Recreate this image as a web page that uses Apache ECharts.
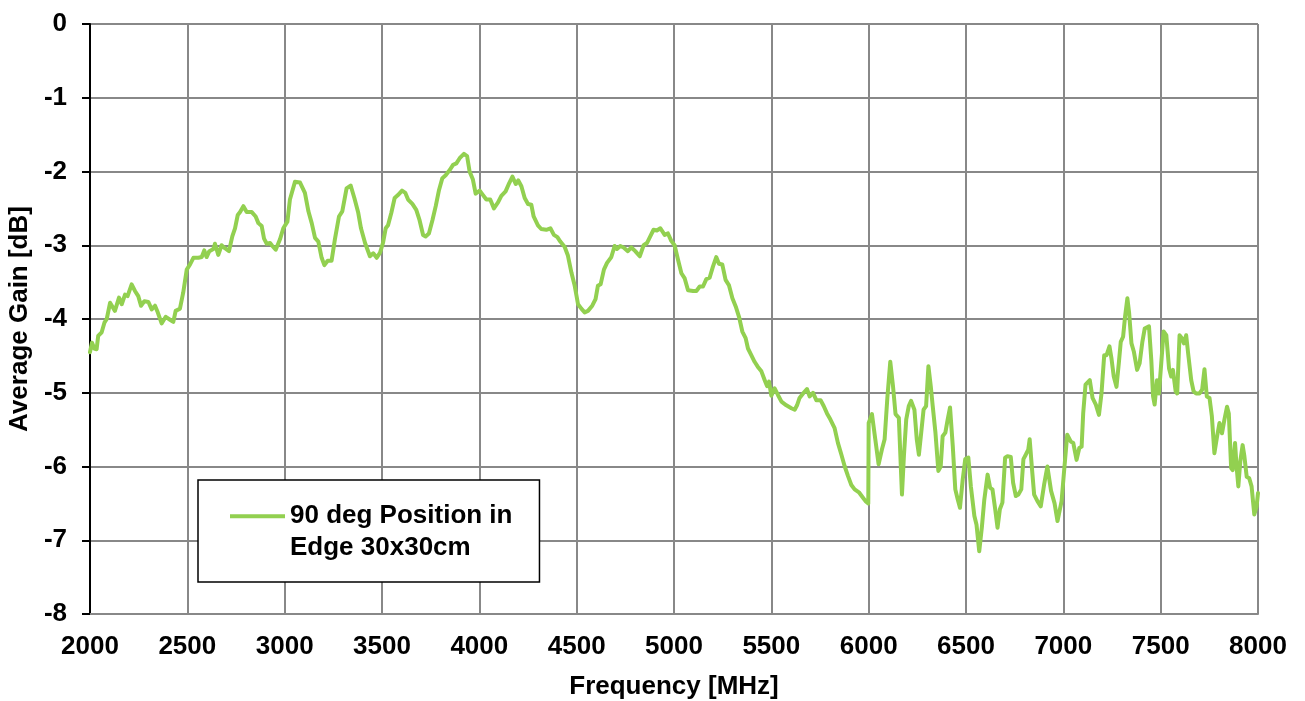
<!DOCTYPE html>
<html>
<head>
<meta charset="utf-8">
<script src="https://cdn.jsdelivr.net/npm/echarts@6/dist/echarts.min.js"></script>
<style>
html,body{margin:0;padding:0;background:#fff;}
#chart{width:1305px;height:701px;}
</style>
</head>
<body>
<div id="chart"></div>
<script>
const seriesName = '90 deg Position in\nEdge 30x30cm';
const xTicks = [2000, 2500, 3000, 3500, 4000, 4500, 5000, 5500, 6000, 6500, 7000, 7500, 8000];
const yTicks = [0, -1, -2, -3, -4, -5, -6, -7, -8];

const freqMHz = [
2000,2010,2022,2034,2042,2060,2074,2086,2103,2128,2149,2163,2180,2193,2214,2231,2248,2262,2279,2300,2317,2334,2348,2368,2389,2411,2428,2440,2462,2479,2497,
2514,2531,2557,2574,2587,2599,2613,2634,2642,2659,2676,2693,2714,2731,2745,2759,2771,2788,2805,2831,2851,2865,2882,2894,2908,2925,2937,2954,2976,2993,
3014,3027,3053,3079,3104,3122,3139,3156,3173,3190,3204,3221,3241,3258,3279,3296,3318,3339,3358,3378,3392,3413,3438,3455,3473,3490,
3505,3519,3531,3548,3565,3582,3603,3620,3634,3656,3676,3693,3711,3724,3741,3759,3776,3793,3810,3827,3848,3865,3882,3899,3921,3937,3950,3967,3981,
4002,4019,4036,4056,4075,4096,4113,4135,4153,4170,4187,4200,4216,4233,4250,4267,4279,4289,4301,4318,4344,4365,4383,4401,4416,4438,4455,4473,4490,
4507,4524,4541,4558,4580,4597,4609,4623,4640,4656,4678,4695,4707,4724,4741,4763,4781,4801,4824,4844,4861,4878,4895,4912,4930,
4952,4969,4986,5003,5021,5038,5055,5072,5098,5115,5132,5149,5166,5183,5200,5217,5231,5248,5265,5282,5300,5317,5334,5351,5368,5380,5397,5414,5431,5449,5466,5478,5488,
5500,5517,5534,5552,5577,5603,5620,5632,5645,5666,5683,5697,5714,5731,5753,5769,5786,5803,5825,5842,5860,5877,5894,5911,5928,5950,5967,5984,5998,
6000,6017,6034,6051,6068,6082,6096,6111,6125,6138,6155,6171,6181,6193,6206,6218,6235,6247,6258,6270,6282,6295,6307,6319,6329,6343,6358,6370,6380,6394,6406,6418,6432,6445,6457,6469,6483,6496,
6512,6525,6543,6554,6568,6582,6594,6611,6624,6636,6650,6662,6674,6687,6701,6713,6730,6742,6756,6769,6784,6795,6807,6820,6827,6838,6850,6867,
6884,6901,6918,6937,6955,6970,6991,7003,7020,7038,7051,7068,7082,7094,7102,7114,7136,7150,7167,7183,7196,7210,7222,7237,7247,7259,7273,7285,7295,7307,7317,7329,7338,7350,7362,7379,7392,7406,7418,7440,7452,7461,7469,7481,7491,
7503,7515,7529,7543,7554,7563,7577,7585,7597,7609,7619,7631,7643,7657,7669,7682,7699,7713,7725,7737,7751,7763,7776,7790,7802,7815,7827,7841,7850,7862,7870,7882,7890,7899,7909,7921,7930,7942,7955,7967,7981,7993,8000
];

const gainDb = [
-4.45,-4.32,-4.40,-4.41,-4.23,-4.18,-4.05,-4.00,-3.78,-3.89,-3.71,-3.80,-3.67,-3.69,-3.53,-3.62,-3.69,-3.82,-3.76,-3.77,-3.87,-3.82,-3.91,-4.06,-3.97,-4.01,-4.04,-3.89,-3.86,-3.64,-3.33,
-3.26,-3.17,-3.17,-3.16,-3.07,-3.16,-3.08,-3.05,-2.98,-3.13,-3.00,-3.04,-3.08,-2.88,-2.77,-2.59,-2.55,-2.47,-2.55,-2.55,-2.61,-2.70,-2.74,-2.91,-2.98,-2.97,-3.01,-3.06,-2.92,-2.77,
-2.68,-2.38,-2.14,-2.15,-2.29,-2.54,-2.70,-2.90,-2.95,-3.17,-3.27,-3.21,-3.21,-2.92,-2.61,-2.54,-2.23,-2.19,-2.36,-2.56,-2.77,-2.97,-3.15,-3.11,-3.17,-3.10,
-2.97,-2.77,-2.73,-2.56,-2.36,-2.32,-2.26,-2.29,-2.38,-2.44,-2.52,-2.66,-2.86,-2.88,-2.84,-2.66,-2.47,-2.25,-2.09,-2.05,-1.98,-1.91,-1.89,-1.82,-1.76,-1.79,-2.00,-2.11,-2.30,
-2.26,-2.32,-2.38,-2.38,-2.50,-2.42,-2.33,-2.27,-2.16,-2.07,-2.17,-2.12,-2.20,-2.36,-2.44,-2.45,-2.61,-2.60,-2.73,-2.78,-2.79,-2.77,-2.86,-2.89,-2.95,-3.02,-3.14,-3.37,-3.55,
-3.80,-3.86,-3.91,-3.89,-3.82,-3.73,-3.55,-3.53,-3.33,-3.24,-3.16,-3.01,-3.05,-3.01,-3.03,-3.08,-3.03,-3.08,-3.15,-3.00,-2.97,-2.88,-2.79,-2.80,-2.77,
-2.86,-2.84,-2.94,-3.00,-3.20,-3.38,-3.45,-3.61,-3.62,-3.62,-3.56,-3.56,-3.46,-3.44,-3.29,-3.16,-3.25,-3.26,-3.47,-3.54,-3.72,-3.83,-3.97,-4.17,-4.26,-4.40,-4.49,-4.58,-4.65,-4.71,-4.83,-4.91,-4.85,
-5.04,-4.94,-5.03,-5.12,-5.17,-5.21,-5.23,-5.17,-5.07,-5.00,-4.95,-5.05,-5.00,-5.10,-5.10,-5.18,-5.28,-5.36,-5.48,-5.68,-5.84,-6.00,-6.13,-6.25,-6.31,-6.35,-6.41,-6.47,-6.50,
-5.41,-5.29,-5.63,-5.97,-5.77,-5.63,-5.07,-4.58,-4.91,-5.29,-5.34,-6.38,-5.86,-5.36,-5.18,-5.11,-5.23,-5.63,-5.84,-5.54,-5.23,-5.18,-4.64,-4.91,-5.18,-5.54,-6.06,-6.00,-5.59,-5.54,-5.36,-5.20,-5.72,-6.31,-6.44,-6.56,-6.18,-5.90,
-5.88,-6.27,-6.67,-6.79,-7.15,-6.81,-6.45,-6.11,-6.29,-6.31,-6.58,-6.83,-6.58,-6.49,-5.88,-5.86,-5.87,-6.22,-6.40,-6.38,-6.31,-5.90,-5.84,-5.77,-5.63,-6.00,-6.38,-6.47,
-6.54,-6.25,-6.00,-6.33,-6.50,-6.74,-6.47,-6.09,-5.57,-5.66,-5.68,-5.91,-5.75,-5.73,-5.28,-4.89,-4.83,-5.07,-5.16,-5.30,-5.01,-4.49,-4.49,-4.37,-4.53,-4.78,-4.92,-4.60,-4.31,-4.24,-3.97,-3.72,-3.92,-4.33,-4.44,-4.69,-4.60,-4.31,-4.13,-4.10,-4.56,-5.05,-5.16,-4.83,-5.01,
-4.60,-4.17,-4.22,-4.67,-4.78,-4.69,-4.98,-5.01,-4.22,-4.26,-4.33,-4.22,-4.51,-4.83,-4.98,-5.01,-5.01,-4.96,-4.68,-5.05,-5.07,-5.32,-5.82,-5.59,-5.41,-5.55,-5.37,-5.19,-5.28,-6.02,-6.05,-5.68,-6.00,-6.27,-5.93,-5.71,-5.86,-6.14,-6.16,-6.27,-6.65,-6.54,-6.36
];

const points = freqMHz.map((f, i) => [f, gainDb[i]]);
const FONT = "'Liberation Sans', Arial, sans-serif";
const GRID = '#888888';

const chart = echarts.init(document.getElementById('chart'), null, {renderer: 'canvas'});
chart.setOption({
  backgroundColor: '#ffffff',
  animation: false,
  grid: {left: 90, top: 24, width: 1168, height: 590, containLabel: false, outerBoundsMode: 'none'},
  legend: {
    left: 198, top: 480,
    orient: 'vertical',
    padding: [20, 27, 18, 32],
    borderColor: '#000', borderWidth: 1.5, backgroundColor: '#fff',
    itemWidth: 55, itemHeight: 64,
    itemStyle: {borderWidth: 0},
    data: [{name: seriesName, icon: 'path://M0,14.2L55,14.2L55,18.2L0,18.2Z M0,0L0.01,0L0.01,0.01Z M55,64L54.99,64L54.99,63.99Z'}],
    textStyle: {fontFamily: FONT, fontSize: 26, fontWeight: 'bold', color: '#000', lineHeight: 32},
    selectedMode: false
  },
  xAxis: {
    type: 'value', min: xTicks[0], max: xTicks[xTicks.length - 1], interval: 500,
    name: 'Frequency [MHz]', nameLocation: 'middle', nameGap: 60,
    nameTextStyle: {fontFamily: FONT, fontSize: 26, fontWeight: 'bold', color: '#000'},
    axisLine: {show: true, onZero: false, lineStyle: {color: GRID, width: 2}},
    axisTick: {show: false},
    axisLabel: {fontFamily: FONT, fontSize: 26, fontWeight: 'bold', color: '#000', margin: 20,
      formatter: v => xTicks.includes(v) ? String(v) : ''},
    splitLine: {show: true, lineStyle: {color: GRID, width: 2}}
  },
  yAxis: {
    type: 'value', min: yTicks[yTicks.length - 1], max: yTicks[0], interval: 1,
    name: 'Average Gain [dB]', nameLocation: 'middle', nameGap: 54, nameRotate: 90,
    nameTextStyle: {fontFamily: FONT, fontSize: 26, fontWeight: 'bold', color: '#000'},
    axisLine: {show: true, onZero: false, lineStyle: {color: '#000', width: 2}},
    axisTick: {show: true, inside: false, length: 8, lineStyle: {color: '#000', width: 2}},
    axisLabel: {fontFamily: FONT, fontSize: 26, fontWeight: 'bold', color: '#000', margin: 23,
      formatter: v => yTicks.includes(v) ? String(v) : ''},
    splitLine: {show: true, lineStyle: {color: GRID, width: 2}}
  },
  series: [{
    name: seriesName,
    type: 'line',
    data: points,
    showSymbol: false,
    symbol: 'none',
    smooth: false,
    color: '#92D050',
    lineStyle: {color: '#92D050', width: 4, join: 'round', cap: 'round'},
    z: 3
  }]
});
</script>
</body>
</html>
